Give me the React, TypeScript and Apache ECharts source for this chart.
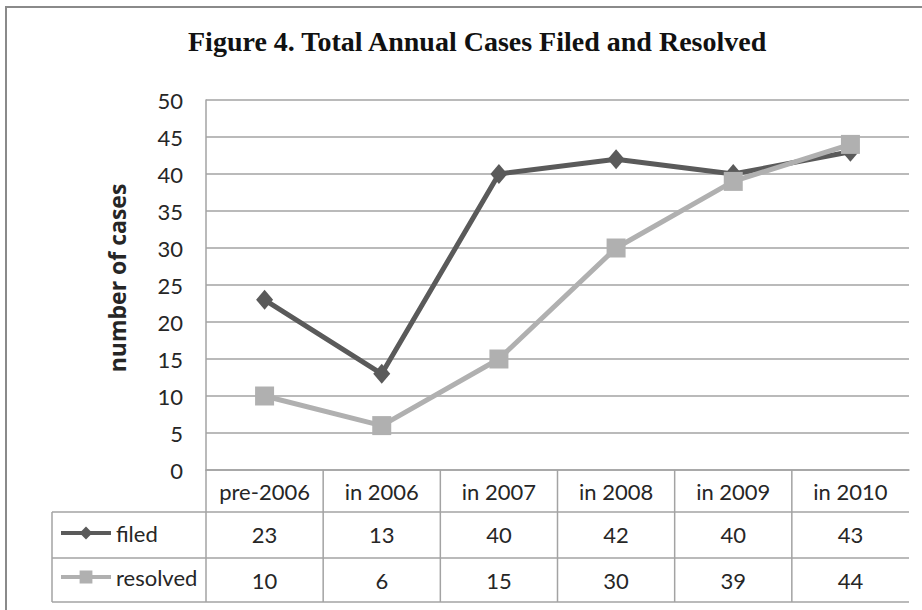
import React, { useEffect, useRef } from "react";
import * as echarts from "echarts";

const categories = ["pre-2006", "in 2006", "in 2007", "in 2008", "in 2009", "in 2010"];
const filed = [23, 13, 40, 42, 40, 43];
const resolved = [10, 6, 15, 30, 39, 44];
const yTicks = { min: 0, max: 50, interval: 5 };
const titleText = "Figure 4. Total Annual Cases Filed and Resolved";
const yName = "number of cases";

const W = 922;
const H = 610;
const GRID_LEFT = 206;
const GRID_RIGHT_X = 909;
const GRID_TOP = 100;
const GRID_BOTTOM_Y = 470;
const ROW1_Y = 512;
const ROW2_Y = 558;
const ROW3_Y = 602;
const TABLE_LEFT = 52;

const LINE_COLOR = "#a3a3a3";
const TEXT_COLOR = "#262626";
const FONT = "Lato";
const FILED_COLOR = "#5a5a5a";
const RESOLVED_COLOR = "#b0b0b0";

export default function App() {
  const ref = useRef<HTMLDivElement>(null);
  useEffect(() => {
    if (!ref.current) return;
    const chart = echarts.init(ref.current, null, { renderer: "svg" });
    const colW = (GRID_RIGHT_X - GRID_LEFT) / categories.length;
    const tableLines: any[] = [];
    const hLine = (x1: number, x2: number, y: number) => ({
      type: "line",
      shape: { x1, y1: y, x2, y2: y },
      style: { stroke: LINE_COLOR, lineWidth: 1.5 },
      silent: true,
    });
    const vLine = (x: number, y1: number, y2: number) => ({
      type: "line",
      shape: { x1: x, y1, x2: x, y2 },
      style: { stroke: LINE_COLOR, lineWidth: 1.5 },
      silent: true,
    });
    tableLines.push(hLine(TABLE_LEFT, GRID_RIGHT_X, ROW1_Y));
    tableLines.push(hLine(TABLE_LEFT, GRID_RIGHT_X, ROW2_Y));
    tableLines.push(hLine(TABLE_LEFT, GRID_RIGHT_X, ROW3_Y));
    tableLines.push(vLine(TABLE_LEFT, ROW1_Y, ROW3_Y));
    for (let i = 0; i < categories.length; i++) {
      tableLines.push(vLine(GRID_LEFT + i * colW, GRID_BOTTOM_Y, ROW3_Y));
    }

    const valueAxis = (vals: number[], offset: number) => ({
      type: "category",
      data: vals.map((v) => ({ value: String(v) })),
      gridIndex: 0,
      position: "bottom",
      offset,
      boundaryGap: true,
      axisLine: { show: false },
      axisTick: { show: false },
      axisLabel: {
        interval: 0,
        margin: 11,
        fontFamily: FONT,
        fontSize: 22,
        color: TEXT_COLOR,
      },
    });

    chart.setOption({
      animation: false,
      backgroundColor: "#ffffff",
      title: {
        text: titleText,
        left: 183,
        top: 22,
        textStyle: {
          fontFamily: "Liberation Serif",
          fontWeight: "bold",
          fontSize: 28,
          color: "#111111",
        },
      },
      grid: {
        left: GRID_LEFT,
        right: W - GRID_RIGHT_X,
        top: GRID_TOP,
        bottom: H - GRID_BOTTOM_Y,
        containLabel: false,
      },
      legend: {
        data: ["filed", "resolved"],
        orient: "vertical",
        left: 54,
        top: 517,
        itemWidth: 50,
        itemHeight: 16,
        itemGap: 22,
        lineStyle: { width: 4 },
        textStyle: { fontFamily: FONT, fontSize: 22, color: TEXT_COLOR },
        selectedMode: false,
      },
      xAxis: [
        {
          type: "category",
          data: categories,
          boundaryGap: true,
          axisLine: { show: true, lineStyle: { color: LINE_COLOR, width: 1.5 } },
          axisTick: { show: false },
          axisLabel: {
            interval: 0,
            margin: 10,
            fontFamily: FONT,
            fontSize: 22,
            color: TEXT_COLOR,
          },
        },
        valueAxis(filed, ROW1_Y - GRID_BOTTOM_Y),
        valueAxis(resolved, ROW2_Y - GRID_BOTTOM_Y),
      ],
      yAxis: {
        type: "value",
        min: yTicks.min,
        max: yTicks.max,
        interval: yTicks.interval,
        name: yName,
        nameLocation: "middle",
        nameGap: 78,
        nameTextStyle: {
          fontFamily: "Open Sans",
          fontWeight: "bold",
          fontSize: 23,
          color: TEXT_COLOR,
          padding: [0, 0, 0, 14],
        },
        axisLine: { show: true, lineStyle: { color: LINE_COLOR, width: 1.5 } },
        axisTick: { show: false },
        axisLabel: {
          margin: 23,
          fontFamily: FONT,
          fontSize: 22,
          color: TEXT_COLOR,
        },
        splitLine: { show: true, lineStyle: { color: LINE_COLOR, width: 1.5 } },
      },
      series: [
        {
          name: "filed",
          type: "line",
          xAxisIndex: 0,
          data: filed,
          symbol: "diamond",
          symbolSize: [17, 20],
          lineStyle: { color: FILED_COLOR, width: 5 },
          itemStyle: { color: FILED_COLOR },
        },
        {
          name: "resolved",
          type: "line",
          xAxisIndex: 0,
          data: resolved,
          symbol: "rect",
          symbolSize: 19,
          lineStyle: { color: RESOLVED_COLOR, width: 5 },
          itemStyle: { color: RESOLVED_COLOR },
        },
      ],
      graphic: [
        {
          type: "rect",
          shape: { x: 6, y: 7, width: 1000, height: 1000 },
          style: { fill: "none", stroke: "#8a8a8a", lineWidth: 2 },
          silent: true,
        },
        ...tableLines,
      ],
    });
    return () => chart.dispose();
  }, []);
  return (
    <div
      ref={ref}
      style={{ position: "absolute", left: 0, top: 0, width: W, height: H }}
    />
  );
}
